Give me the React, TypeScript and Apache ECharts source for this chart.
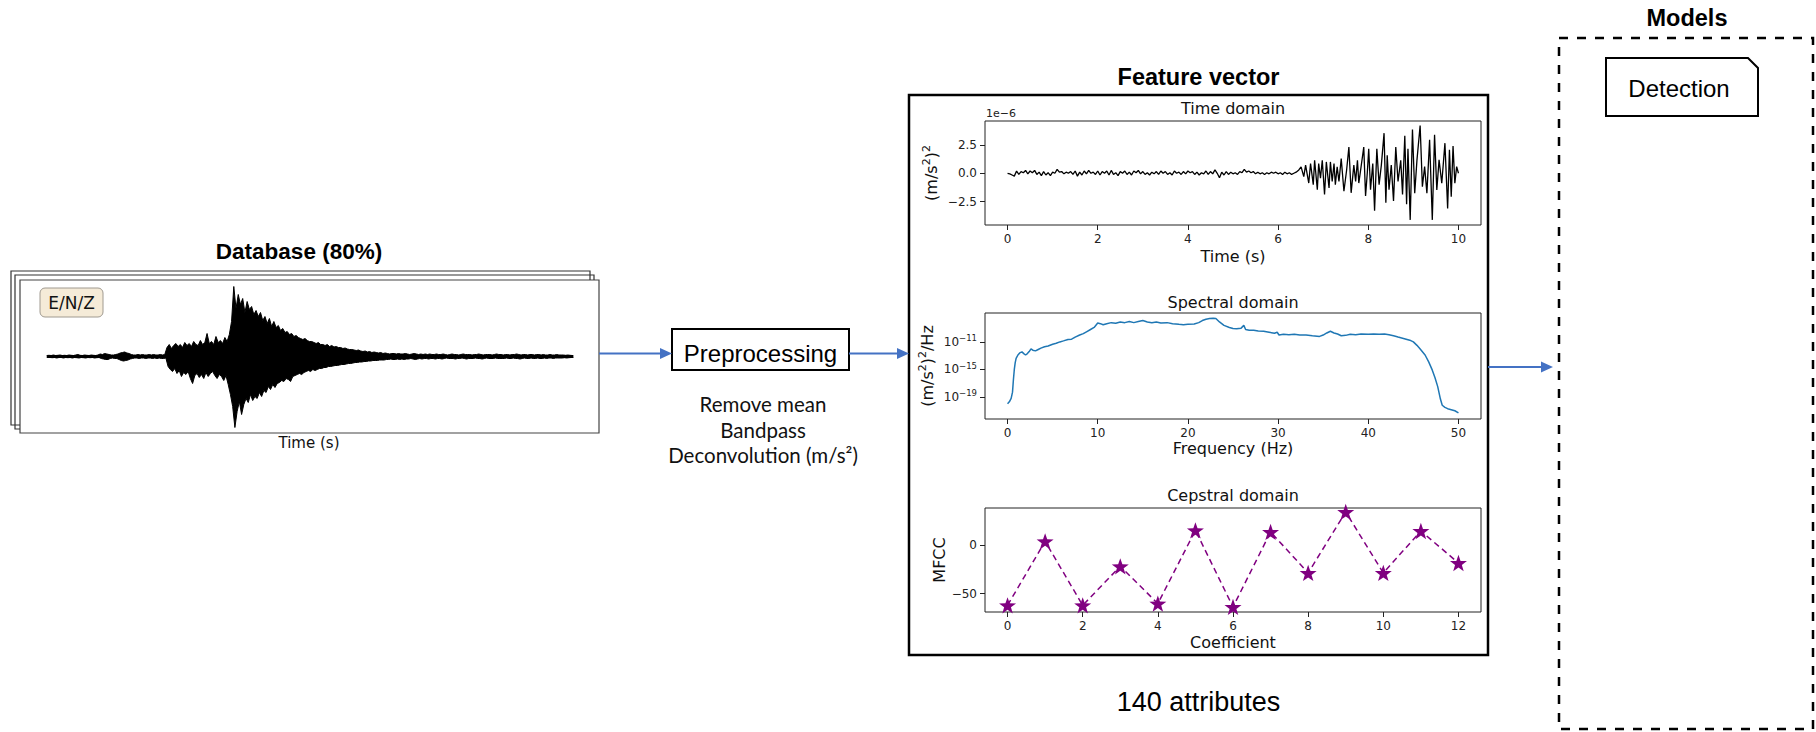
import React, { useEffect, useRef } from 'react';
import * as echarts from 'echarts';

// ---------- Data ----------
// Left seismogram envelope, sampled every 0.5 s (arbitrary counts): upper and lower amplitude
const seisStep = 0.5;
const seisUpper = [
  1, 1.2, 1, 1.5, 1, 1.2, 1.5, 1, 1.2, 1, 1.5, 1.2, 1, 1.5, 2, 1.2, 1, 1.5, 1.2, 1, 1.5, 1.2, 1, 1.5, 2.5, 2, 3,
  2.5, 2, 1.5, 1.5, 2, 2.5, 3.5, 4, 4.5, 3.5, 3, 2, 1.5, 1.5, 2, 1.5, 2, 1.5, 1.5, 2, 1.5, 2, 1.5, 1.5, 2, 1.5, 2,
  9, 12, 8, 11, 13, 10, 12, 9, 14, 11, 13, 10, 15, 12, 11, 16, 12, 14, 23, 13, 15, 12, 20, 14, 16, 13, 19, 15, 22,
  35, 70, 48, 62, 52, 58, 44, 55, 47, 50, 42, 46, 40, 44,
  36, 40, 33, 38, 30, 35, 29, 31, 26, 28, 24, 25, 22, 23, 20, 21, 19, 18, 17, 18, 16, 15, 15, 14,
  13, 14, 12, 12, 11, 12, 10, 11, 9.5, 10, 9, 9, 8, 8.5, 7.5, 7, 7, 6.5, 6, 6.5, 5.5, 5, 5.5, 4.5, 5, 4, 4.5, 4, 3.5, 4,
  3, 3.5, 3, 2.5, 3, 3, 2.5, 3, 2.5, 2.5, 3, 2.5, 2, 2.5, 3, 2.5, 2, 2.5, 2, 2.5,
  2, 2.5, 2, 2, 2.5, 2, 2, 2.5, 2, 1.5, 2, 2.5, 2, 2, 1.5, 2, 2.5, 2, 2, 2,
  1.5, 2, 2, 2.5, 2, 1.5, 2, 2, 2, 1.5, 2, 2.5, 2, 2, 1.5, 2, 2, 1.5, 2, 2,
  2.5, 2, 1.5, 2, 2, 1.5, 2, 2, 1.5, 2, 2, 1.5, 2, 1.5, 1.5, 2, 1.5, 1.5, 2, 1.5,
  1.5, 1.5, 1.2, 1.5, 1.2, 1,
];
const seisLower = [
  1, 1, 1.2, 1, 1.5, 1, 1, 1.5, 1, 1.2, 1, 1.5, 1, 1.2, 1.5, 1, 1.2, 1.5, 1, 1.2, 1, 1.5, 1.2, 1, 2, 2.5, 3,
  3, 2, 1.5, 2, 2, 3, 4, 4.5, 4, 3.5, 2.5, 2, 1.5, 1.5, 2, 1.5, 1.5, 2, 1.5, 1.5, 2, 1.5, 2, 1.5, 2, 2, 1.5,
  10, 13, 15, 12, 17, 14, 20, 16, 18, 15, 22, 27, 19, 17, 21, 18, 22, 16, 20, 17, 15, 19, 22, 18, 20, 24, 19, 28, 38,
  50, 71, 55, 45, 58, 48, 42, 46, 38, 44, 40, 42, 36, 40,
  34, 36, 30, 33, 28, 31, 27, 26, 24, 25, 22, 23, 25, 20, 19, 18, 17, 18, 16, 15, 14, 15, 13, 14,
  13, 12, 12, 11, 11, 10, 10, 9.5, 9, 9, 8.5, 8, 8, 7.5, 7, 7, 6.5, 6, 6, 5.5, 5.5, 5, 5, 4.5, 4.5, 4, 4, 4, 3.5, 3.5,
  3.5, 3, 3, 2.5, 3, 3, 2.5, 3, 2.5, 3, 2.5, 2.5, 2, 2.5, 3, 2.5, 2, 2.5, 2, 2,
  2.5, 2, 2, 2.5, 2, 2, 2.5, 2, 1.5, 2, 2, 2, 2.5, 2, 2, 1.5, 2, 2.5, 2, 2,
  2, 1.5, 2, 2, 2.5, 2, 1.5, 2, 2, 2, 1.5, 2, 2, 2, 2, 1.5, 2, 2, 1.5, 2,
  2, 2.5, 2, 1.5, 2, 2, 1.5, 2, 2, 1.5, 2, 2, 1.5, 2, 1.5, 1.5, 2, 1.5, 1.5, 1.5,
  1.5, 1.2, 1.5, 1.2, 1, 1,
];

// Time domain (units of 1e-6), quiet part sampled every 0.05 s from 0 to 6.40 s
const timeQuietStep = 0.05;
const timeQuiet = [
  0.0, -0.05, -0.15, -0.25, 0.2, -0.1, 0.15, 0.05, 0.25, -0.05, 0.2, 0.05, 0.25, -0.1, 0.1, -0.2, 0.15, -0.15, 0.05, -0.2,
  0.1, 0.0, 0.35, 0.1, 0.15, -0.05, 0.1, 0.0, 0.15, -0.1, 0.2, -0.25, 0.1, -0.15, 0.2, -0.05, 0.25, 0.0, 0.1, -0.1,
  0.2, -0.15, 0.15, 0.0, 0.2, -0.15, 0.25, -0.1, 0.05, -0.2, 0.15, 0.0, 0.2, -0.1, 0.1, -0.15, 0.2, 0.05, 0.25, -0.05,
  0.15, -0.1, 0.05, -0.15, 0.1, -0.05, 0.15, -0.1, 0.2, 0.0, 0.15, -0.1, 0.05, -0.15, 0.2, 0.0, 0.1, -0.1, 0.15, -0.05,
  0.2, 0.05, 0.15, -0.1, 0.1, -0.15, 0.05, -0.05, 0.2, -0.1, 0.15, -0.05, 0.3, 0.0, -0.4, 0.1, -0.15, 0.15, -0.1, 0.1,
  -0.05, 0.05, -0.1, 0.15, 0.05, 0.35, 0.1, 0.2, 0.05, 0.15, -0.05, 0.1, -0.05, 0.05, -0.1, 0.05, -0.05, 0.1, 0.0, 0.1,
  -0.05, 0.05, -0.1, 0.1, -0.05, 0.05, -0.1, 0.0, 0.1,
];
// Loud part as [time s, value]
const timeLoud: [number, number][] = [
  [6.46, 0.29], [6.51, 0.57], [6.57, -0.29], [6.61, 0.72], [6.68, -0.86], [6.72, 0.86], [6.78, -1.0], [6.81, 1.15],
  [6.87, -1.44], [6.9, 0.86], [6.94, -0.43], [6.98, 1.15], [7.03, -1.87], [7.07, 1.0], [7.13, -1.29], [7.16, 1.0],
  [7.2, -0.72], [7.24, 0.86], [7.27, -1.0], [7.31, 0.57], [7.35, -0.72], [7.4, 1.29], [7.46, -1.58], [7.52, 0.29],
  [7.57, 2.3], [7.62, -1.72], [7.68, 0.72], [7.72, -0.72], [7.76, 1.15], [7.79, -0.86], [7.84, 0.57], [7.9, 2.3],
  [7.94, -2.0], [7.98, 0.14], [8.01, 2.15], [8.05, -1.44], [8.1, 0.86], [8.14, -3.3], [8.19, 2.15], [8.24, -1.0],
  [8.29, 0.72], [8.35, 3.53], [8.39, -2.6], [8.42, 1.58], [8.46, -1.44], [8.51, 0.72], [8.56, -2.44], [8.61, 2.3],
  [8.66, -0.72], [8.72, 1.15], [8.76, -1.87], [8.81, 3.3], [8.85, -2.73], [8.88, 2.15], [8.93, -4.1], [8.98, 3.85],
  [9.03, -1.76], [9.08, 1.18], [9.15, 4.2], [9.2, -1.18], [9.25, 0.59], [9.3, -1.76], [9.36, 2.94], [9.42, -4.1],
  [9.47, 3.38], [9.52, -1.47], [9.57, 1.18], [9.63, -0.88], [9.7, 2.65], [9.76, -3.1], [9.8, 2.06], [9.84, -2.06],
  [9.88, 2.4], [9.92, -0.88], [9.96, 0.59], [10.0, 0.0],
];

// Spectral domain: [frequency Hz, log10 PSD]
const spectrum: [number, number][] = [
  [0, -19.98], [0.2, -19.7], [0.4, -19.2], [0.55, -18.3], [0.65, -16.5], [0.75, -15.0], [0.85, -14.0], [0.95, -13.4],
  [1.15, -12.9], [1.35, -12.6], [1.6, -12.45], [1.8, -12.7], [2.0, -12.9], [2.2, -12.7], [2.4, -12.4], [2.6, -12.0],
  [2.8, -12.2], [3.1, -12.3], [3.4, -12.1], [3.7, -11.9], [4.1, -11.7], [4.5, -11.6], [5.0, -11.35], [5.4, -11.2],
  [5.8, -11.0], [6.2, -10.85], [6.7, -10.65], [7.1, -10.6], [7.5, -10.3], [8.0, -10.0], [8.4, -9.8], [8.8, -9.5],
  [9.2, -9.2], [9.6, -8.9], [10.0, -8.25], [10.3, -8.35], [10.6, -8.5], [11.0, -8.35], [11.5, -8.2], [12.0, -8.3],
  [12.5, -8.1], [13.0, -8.2], [13.5, -8.05], [14.0, -8.2], [14.5, -8.05], [15.0, -7.9], [15.5, -8.1], [16.0, -8.2],
  [16.5, -8.1], [17.0, -8.25], [17.7, -8.2], [18.3, -8.35], [19.0, -8.45], [19.5, -8.5], [20.0, -8.45], [20.7, -8.4],
  [21.2, -8.2], [21.6, -7.9], [22.0, -7.7], [22.4, -7.6], [22.8, -7.55], [23.1, -7.6], [23.5, -8.1], [24.0, -8.6],
  [24.6, -8.9], [25.0, -9.05], [25.4, -9.1], [25.9, -9.0], [26.2, -8.6], [26.4, -9.2], [26.8, -9.3], [27.3, -9.3],
  [27.8, -9.4], [28.4, -9.45], [29.0, -9.6], [29.6, -9.75], [29.9, -9.6], [30.1, -10.0], [30.6, -9.9], [31.2, -9.95],
  [31.8, -9.9], [32.4, -10.0], [33.1, -10.0], [33.8, -10.1], [34.6, -10.2], [35.0, -10.0], [35.4, -9.7], [35.8, -9.45],
  [36.2, -9.7], [36.6, -9.85], [37.0, -10.1], [37.5, -10.05], [38.0, -9.9], [38.6, -9.95], [39.2, -9.85], [40.0, -9.9],
  [40.6, -9.85], [41.2, -9.9], [41.8, -9.85], [42.3, -9.95], [42.8, -10.1], [43.3, -10.3], [43.9, -10.5], [44.6, -10.75],
  [45.0, -11.0], [45.4, -11.5], [45.8, -12.1], [46.3, -12.9], [46.7, -13.9], [47.1, -15.1], [47.4, -16.2], [47.7, -17.5],
  [48.0, -19.3], [48.2, -20.2], [48.5, -20.5], [48.8, -20.7], [49.2, -20.85], [49.6, -21.0], [50.0, -21.3],
];

// Cepstral domain
const mfccCoeff = [0, 1, 2, 3, 4, 5, 6, 7, 8, 9, 10, 11, 12];
const mfccValues = [-62.1, 4.1, -62.1, -21.7, -60.3, 15.5, -63.8, 13.8, -28.6, 34.5, -28.6, 14.8, -18.3];

// Tick labels
const timeTicks = [0, 2, 4, 6, 8, 10];
const timeYTicks = [-2.5, 0, 2.5];
const freqTicks = [0, 10, 20, 30, 40, 50];
const specYTicks = [-19, -15, -11];
const coefTicks = [0, 2, 4, 6, 8, 10, 12];
const mfccYTicks = [-50, 0];

const preprocessingSteps = ['Remove mean', 'Bandpass', 'Deconvolution (m/s²)'];

// ---------- Helpers ----------
const minus = (v: number, digits?: number) => {
  const a = digits === undefined ? String(Math.abs(v)) : Math.abs(v).toFixed(digits);
  return v < 0 ? '−' + a : a;
};

const MPL = 'DejaVu Sans';
const ARIAL = 'Liberation Sans, Arial, sans-serif';
const BLUE = '#4472c4';
const STAR = 'path://M50,2 L61.8,36.2 L97.6,36.9 L69,58.8 L79.4,93.1 L50,72.6 L20.6,93.1 L31,58.8 L2.4,36.9 L38.2,36.2 Z';

const nameRich = {
  b: { fontSize: 16, fontFamily: MPL, color: '#111', lineHeight: 20, verticalAlign: 'middle' },
  s: { fontSize: 11, fontFamily: MPL, color: '#111', lineHeight: 9, verticalAlign: 'top' },
};
const tickRich = {
  b: { fontSize: 12, fontFamily: MPL, color: '#222', lineHeight: 16, verticalAlign: 'middle' },
  s: { fontSize: 8.5, fontFamily: MPL, color: '#222', lineHeight: 7, verticalAlign: 'top' },
};

function xAx(gridIndex: number, min: number, max: number, ticks: number[], name: string, nameGap: number) {
  return {
    type: 'value', gridIndex, min, max,
    axisLine: { show: false, onZero: false },
    splitLine: { show: false },
    axisTick: { show: true, length: 5, customValues: ticks, lineStyle: { color: '#222', width: 1 } },
    axisLabel: { customValues: ticks, fontSize: 12, color: '#222', fontFamily: MPL, margin: 8 },
    name, nameLocation: 'middle', nameGap,
    nameTextStyle: { fontSize: 16, fontFamily: MPL, color: '#111' },
  };
}
function yAx(gridIndex: number, min: number, max: number, ticks: number[], fmt: (v: number) => string, name: string, nameGap: number, rich?: boolean) {
  return {
    type: 'value', gridIndex, min, max,
    axisLine: { show: false, onZero: false },
    splitLine: { show: false },
    axisTick: { show: true, length: 5, customValues: ticks, lineStyle: { color: '#222', width: 1 } },
    axisLabel: { customValues: ticks, fontSize: 12, color: '#222', fontFamily: MPL, margin: 8, formatter: fmt, rich: tickRich },
    name, nameLocation: 'middle', nameGap, nameRotate: 90,
    nameTextStyle: { fontSize: 16, fontFamily: MPL, color: '#111', ...(rich ? { rich: nameRich } : {}) },
  };
}

function arrow(x1: number, x2: number, y: number) {
  return [
    { type: 'line', shape: { x1, y1: y, x2: x2 - 10, y2: y }, style: { stroke: BLUE, lineWidth: 2 }, z: 50 },
    { type: 'polygon', shape: { points: [[x2, y], [x2 - 12, y - 5.5], [x2 - 12, y + 5.5]] }, style: { fill: BLUE }, z: 50 },
  ];
}

export default function App() {
  const ref = useRef<HTMLDivElement>(null);

  useEffect(() => {
    if (!ref.current) return;
    const chart = echarts.init(ref.current, undefined, { renderer: 'svg' });

    const seisTop = seisUpper.map((u, i) => [i * seisStep, u]);
    const seisBottom = seisLower.map((l, i) => [i * seisStep + seisStep / 2, -l]);
    const timeData: [number, number][] = timeQuiet.map((v, i) => [i * timeQuietStep, v] as [number, number]).concat(timeLoud);
    const mfccData = mfccCoeff.map((c, i) => [c, mfccValues[i]]);

    const graphic: any[] = [
      // Database
      { type: 'text', x: 299, y: 251, style: { text: 'Database (80%)', font: `bold 22.5px ${ARIAL}`, fill: '#000', align: 'center', verticalAlign: 'middle' } },
      { type: 'polyline', shape: { points: [[20, 425], [11, 425], [11, 271], [590, 271], [590, 280]] }, style: { stroke: '#333', lineWidth: 1.2, fill: null } },
      { type: 'polyline', shape: { points: [[20, 429], [15, 429], [15, 275], [594, 275], [594, 280]] }, style: { stroke: '#333', lineWidth: 1.2, fill: null } },
      { type: 'rect', shape: { x: 40, y: 288, width: 63, height: 29, r: 5 }, style: { fill: '#f5ebd8', stroke: '#a09a90', lineWidth: 1 }, z: 60 },
      { type: 'text', x: 71.5, y: 302.5, style: { text: 'E/N/Z', font: `17px ${MPL}`, fill: '#111', align: 'center', verticalAlign: 'middle' }, z: 61 },
      { type: 'text', x: 309, y: 443, style: { text: 'Time (s)', font: `15px ${MPL}`, fill: '#111', align: 'center', verticalAlign: 'middle' } },
      ...arrow(599, 672, 353.5),
      // Preprocessing
      { type: 'rect', shape: { x: 672, y: 329, width: 177, height: 41 }, style: { fill: '#fff', stroke: '#000', lineWidth: 2 } },
      { type: 'text', x: 760.5, y: 353, style: { text: 'Preprocessing', font: `24px ${ARIAL}`, fill: '#000', align: 'center', verticalAlign: 'middle' } },
      ...preprocessingSteps.map((s, i) => ({
        type: 'text', x: 763, y: 404 + i * 25.5,
        style: { text: s, font: `20.5px Lato, 'Open Sans', sans-serif`, fill: '#111', align: 'center', verticalAlign: 'middle' },
      })),
      ...arrow(849, 909, 353.5),
      // Feature vector
      { type: 'text', x: 1198.5, y: 77, style: { text: 'Feature vector', font: `bold 23.5px ${ARIAL}`, fill: '#000', align: 'center', verticalAlign: 'middle' } },
      { type: 'rect', shape: { x: 909, y: 95, width: 579, height: 560 }, style: { fill: null, stroke: '#000', lineWidth: 2.5 } },
      { type: 'text', x: 1233, y: 108, style: { text: 'Time domain', font: `16px ${MPL}`, fill: '#111', align: 'center', verticalAlign: 'middle' } },
      { type: 'text', x: 986, y: 113, style: { text: '1e−6', font: `11px ${MPL}`, fill: '#222', align: 'left', verticalAlign: 'middle' } },
      { type: 'text', x: 1233, y: 302, style: { text: 'Spectral domain', font: `16px ${MPL}`, fill: '#111', align: 'center', verticalAlign: 'middle' } },
      { type: 'text', x: 1233, y: 495, style: { text: 'Cepstral domain', font: `16px ${MPL}`, fill: '#111', align: 'center', verticalAlign: 'middle' } },
      { type: 'text', x: 1198.5, y: 702, style: { text: '140 attributes', font: `27px ${ARIAL}`, fill: '#000', align: 'center', verticalAlign: 'middle' } },
      ...arrow(1488, 1553, 367),
      // Models
      { type: 'text', x: 1687, y: 18, style: { text: 'Models', font: `bold 23.5px ${ARIAL}`, fill: '#000', align: 'center', verticalAlign: 'middle' } },
      { type: 'rect', shape: { x: 1559, y: 38, width: 254, height: 691 }, style: { fill: null, stroke: '#000', lineWidth: 2.5, lineDash: [9, 9] } },
      { type: 'polygon', shape: { points: [[1606, 58], [1748, 58], [1758, 68], [1758, 116], [1606, 116]] }, style: { fill: '#fff', stroke: '#000', lineWidth: 2 } },
      { type: 'text', x: 1679, y: 88, style: { text: 'Detection', font: `24px ${ARIAL}`, fill: '#000', align: 'center', verticalAlign: 'middle' } },
    ];

    chart.setOption({
      animation: false,
      backgroundColor: '#fff',
      grid: [
        { left: 20, top: 280, width: 579, height: 153, show: true, borderColor: '#444', borderWidth: 1.2, backgroundColor: '#fff' },
        { left: 985, top: 121, width: 496, height: 104, show: true, borderColor: '#222', borderWidth: 1 },
        { left: 985, top: 313, width: 496, height: 106, show: true, borderColor: '#222', borderWidth: 1 },
        { left: 985, top: 508, width: 496, height: 104, show: true, borderColor: '#222', borderWidth: 1 },
      ],
      xAxis: [
        { type: 'value', gridIndex: 0, min: -6, max: 124, show: false },
        xAx(1, -0.5, 10.5, timeTicks, 'Time (s)', 23),
        xAx(2, -2.5, 52.5, freqTicks, 'Frequency (Hz)', 21),
        xAx(3, -0.6, 12.6, coefTicks, 'Coefficient', 22),
      ],
      yAxis: [
        { type: 'value', gridIndex: 0, min: -76.5, max: 76.5, show: false },
        yAx(1, -4.55, 4.6, timeYTicks, (v) => (v === 0 ? '0.0' : minus(v, 1)), '{b|(m/s}{s|2}{b|)}{s|2}', 44, true),
        yAx(2, -22.2, -6.8, specYTicks, (v) => '{b|10}{s|' + minus(v) + '}', '{b|(m/s}{s|2}{b|)}{s|2}{b|/Hz}', 48, true),
        yAx(3, -69, 38.6, mfccYTicks, (v) => minus(v), 'MFCC', 36),
      ],
      series: [
        { type: 'line', xAxisIndex: 0, yAxisIndex: 0, data: seisTop, symbol: 'none', lineStyle: { color: '#000', width: 1 }, areaStyle: { color: '#000', opacity: 1, origin: -1.5 } },
        { type: 'line', xAxisIndex: 0, yAxisIndex: 0, data: seisBottom, symbol: 'none', lineStyle: { color: '#000', width: 1 }, areaStyle: { color: '#000', opacity: 1, origin: 1.5 } },
        { type: 'line', xAxisIndex: 1, yAxisIndex: 1, data: timeData, symbol: 'none', lineStyle: { color: '#000', width: 1.3 } },
        { type: 'line', xAxisIndex: 2, yAxisIndex: 2, data: spectrum, symbol: 'none', lineStyle: { color: '#1f77b4', width: 1.5 } },
        {
          type: 'line', xAxisIndex: 3, yAxisIndex: 3, data: mfccData, symbol: STAR, symbolSize: 17, symbolKeepAspect: true,
          lineStyle: { color: '#800080', width: 1.5, type: [6, 4] }, itemStyle: { color: '#800080' },
        },
      ],
      graphic,
    });

    return () => chart.dispose();
  }, []);

  return <div ref={ref} style={{ position: 'absolute', left: 0, top: 0, width: 1816, height: 732 }} />;
}
